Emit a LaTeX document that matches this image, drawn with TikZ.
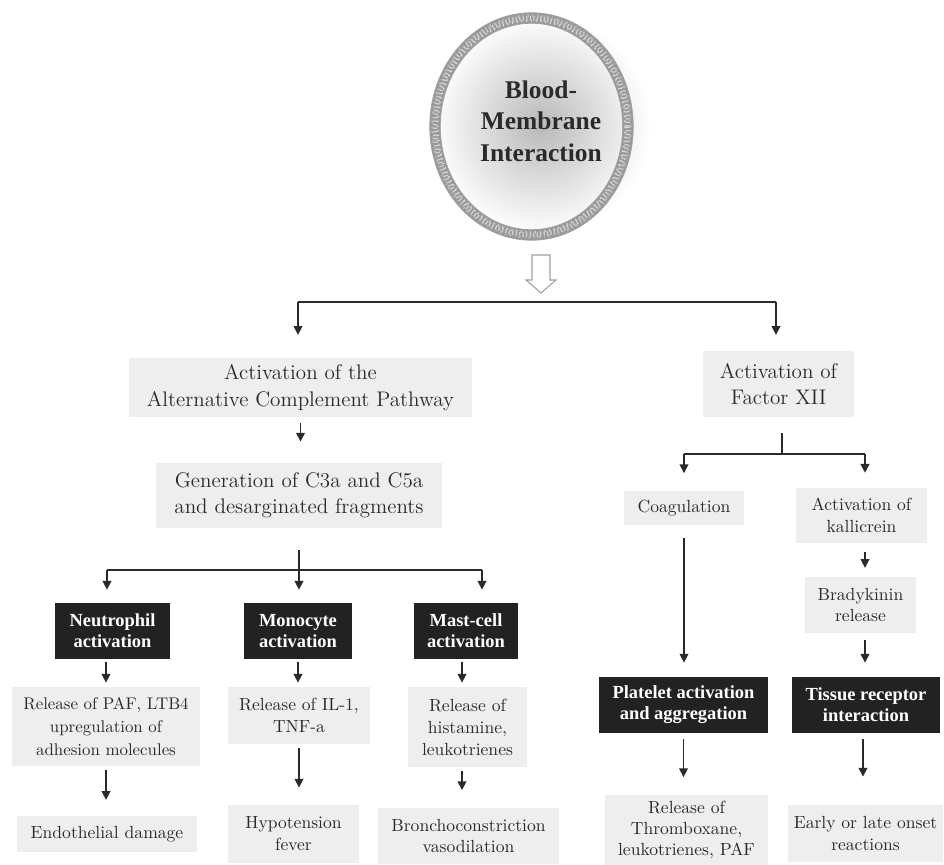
\documentclass[tikz,border=0pt]{standalone}
\usepackage{fontspec}
\newfontfamily\heavyserif{Liberation Serif}
\usetikzlibrary{arrows.meta,shapes.geometric}

\definecolor{boxgrey}{HTML}{EEEEEE}
\definecolor{boxdark}{HTML}{222222}
\definecolor{inkgrey}{HTML}{2A2A2A}
\definecolor{ringgrey}{HTML}{9A9A9A}

\tikzset{
  greybox/.style={fill=boxgrey, text=inkgrey, align=center, inner sep=0pt,
    font=\fontsize{10}{12.5}\selectfont},
  bigbox/.style={greybox, font=\fontsize{12}{15}\selectfont},
  darkbox/.style={fill=boxdark, text=white, align=center, inner sep=0pt,
    font=\heavyserif\bfseries\fontsize{10.5}{12}\selectfont},
  sz/.style 2 args={minimum width=#1*0.02cm, minimum height=#2*0.02cm},
  link/.style={draw=inkgrey, line width=0.85pt},
  arr/.style={link, -{Triangle[length=5pt,width=5pt]}},
  ringpath/.style={line width=#1},
}

\begin{document}
\begin{tikzpicture}[x=0.02cm, y=-0.02cm]
\useasboundingbox (0,0) rectangle (944,865);

% central hub: shaded disc with a mottled grey ring
\coordinate (cc) at (531.5,126.5);
\fill[white] (cc) ellipse [x radius=1.93cm, y radius=2.17cm];
\shade[inner color=gray!55, outer color=white] (541,125) circle [radius=2.2cm];
\draw[ringgrey, line width=6pt] (cc) ellipse [x radius=1.93cm, y radius=2.17cm];
\draw[gray!35, line width=2.6pt, dash pattern=on 0.7pt off 1.3pt]
  (cc) ellipse [x radius=1.93cm, y radius=2.17cm];
\draw[gray!55, line width=1.4pt, dash pattern=on 1.1pt off 2.3pt on 0.5pt off 1.7pt]
  (cc) ellipse [x radius=1.93cm+1.4pt, y radius=2.17cm+1.4pt];
\draw[gray!25, line width=1.2pt, dash pattern=on 0.6pt off 2.1pt]
  (cc) ellipse [x radius=1.93cm-1.5pt, y radius=2.17cm-1.5pt];
\draw[gray!75, line width=0.4pt] (cc) ellipse [x radius=1.93cm+3pt, y radius=2.17cm+3pt];
\draw[gray!75, line width=0.4pt] (cc) ellipse [x radius=1.93cm-3pt, y radius=2.17cm-3pt];
\node[align=center, text=inkgrey,
  font=\heavyserif\bfseries\fontsize{14.5}{18}\selectfont] (hub) at (541,121)
  {Blood-\\Membrane\\Interaction};

% hollow arrow below the hub
\coordinate (ha) at (541,255);
\draw[gray!75, fill=white, line width=0.6pt]
  (ha) ++(-9,0) -- ++(18,0) -- ++(0,25) -- ++(6,0) -- ++(-15,13)
  -- ++(-15,-13) -- ++(6,0) -- cycle;

% boxes
\node[bigbox, sz={343}{59}] (A) at (300.5,387.5) {Activation of the\\Alternative Complement Pathway};
\node[bigbox, sz={151}{66}] (F) at (778.5,384) {Activation of\\Factor XII};
\node[bigbox, sz={286}{65}] (G) at (299,495.5) {Generation of C3a and C5a\\and desarginated fragments};

\node[darkbox, sz={115}{56}] (N) at (112.5,631) {Neutrophil\\activation};
\node[darkbox, sz={108}{56}] (M) at (298,631) {Monocyte\\activation};
\node[darkbox, sz={104}{56}] (S) at (466,631) {Mast-cell\\activation};

\node[greybox, sz={188}{79}, font=\fontsize{9.6}{13}\selectfont] (R1) at (106,726.5) {Release of PAF, LTB4\\upregulation of\\adhesion molecules};
\node[greybox, sz={142}{57}] (R2) at (299,715.5) {Release of IL-1,\\TNF-a};
\node[greybox, sz={119}{80}] (R3) at (467.5,727) {Release of\\histamine,\\leukotrienes};

\node[greybox, sz={180}{36}] (E1) at (107,834) {Endothelial damage};
\node[greybox, sz={131}{58}] (E2) at (293.5,834) {Hypotension\\fever};
\node[greybox, sz={181}{56}] (E3) at (468.5,836) {Bronchoconstriction\\vasodilation};

\node[greybox, sz={120}{34}] (C) at (684,508) {Coagulation};
\node[greybox, sz={131}{55}] (K) at (861.5,515.5) {Activation of\\kallicrein};
\node[greybox, sz={111}{56}] (B) at (860.5,605) {Bradykinin\\release};

\node[darkbox, sz={169}{56}] (P) at (683.5,705) {Platelet activation\\and aggregation};
\node[darkbox, sz={148}{56}] (T) at (866,705) {Tissue receptor\\interaction};

\node[greybox, sz={163}{70}, font=\fontsize{10}{11.8}\selectfont] (X) at (686.5,830) {Release of\\Thromboxane,\\leukotrienes, PAF};
\node[greybox, sz={155}{57}] (L) at (865.5,833.5) {Early or late onset\\reactions};

% first split
\coordinate (bl) at (298,302);
\coordinate (br) at (776,302);
\draw[link] (bl) -- (br);
\draw[arr, shorten >=13pt] (bl) -- (bl |- A.north);
\draw[arr, shorten >=9pt] (br) -- (br |- F.north);

% complement pathway
\draw[arr, shorten <=3.4pt, shorten >=12pt] (A.south) -- (A.south |- G.north);
\coordinate (g1) at (107,570);
\coordinate (g3) at (482,570);
\draw[link, shorten <=12.5pt] (G.south) -- (G.south |- g1);
\draw[link] (g1) -- (g3);
\draw[arr, shorten >=7.4pt] (g1) -- (g1 |- N.north);
\draw[arr, shorten >=7.4pt] (G.south |- g1) -- (G.south |- M.north);
\draw[arr, shorten >=7.4pt] (g3) -- (g3 |- S.north);

\draw[arr, shorten <=1.7pt, shorten >=2.3pt] (N.south -| R1.north) -- (R1.north);
\draw[arr, shorten <=1.7pt, shorten >=2.3pt] (M.south) -- (M.south |- R2.north);
\draw[arr, shorten <=1.7pt, shorten >=2.3pt] (S.south -| 462,0) -- (R3.north -| 462,0);

\draw[arr, shorten <=2.3pt, shorten >=9pt] (R1.south) -- (R1.south |- E1.north);
\draw[arr, shorten <=2.3pt, shorten >=9.7pt] (R2.south) -- (R2.south |- E2.north);
\draw[arr, shorten <=2pt, shorten >=10pt] (R3.south -| 462,0) -- (E3.north -| 462,0);

% factor XII pathway
\coordinate (f1) at (684,454);
\coordinate (f2) at (865,454);
\draw[link, shorten <=9pt] (F.south -| 782,0) -- (f1 -| 782,0);
\draw[link] (f1) -- (f2);
\draw[arr, shorten >=10pt] (f1) -- (f1 |- C.north);
\draw[arr, shorten >=8.5pt] (f2) -- (f2 |- K.north);

\draw[arr, shorten <=5pt, shorten >=5pt] (K.south -| f2) -- (B.north -| f2);
\draw[arr, shorten <=7.4pt, shorten >=8pt] (C.south) -- (C.south |- P.north);
\draw[arr, shorten <=4pt, shorten >=8pt] (B.south -| f2) -- (T.north -| f2);
\draw[arr, shorten <=3pt, shorten >=10pt] (P.south) -- (P.south |- X.north);
\draw[arr, shorten <=3pt, shorten >=16pt] (T.south -| 863,0) -- (L.north -| 863,0);
\end{tikzpicture}
\end{document}
